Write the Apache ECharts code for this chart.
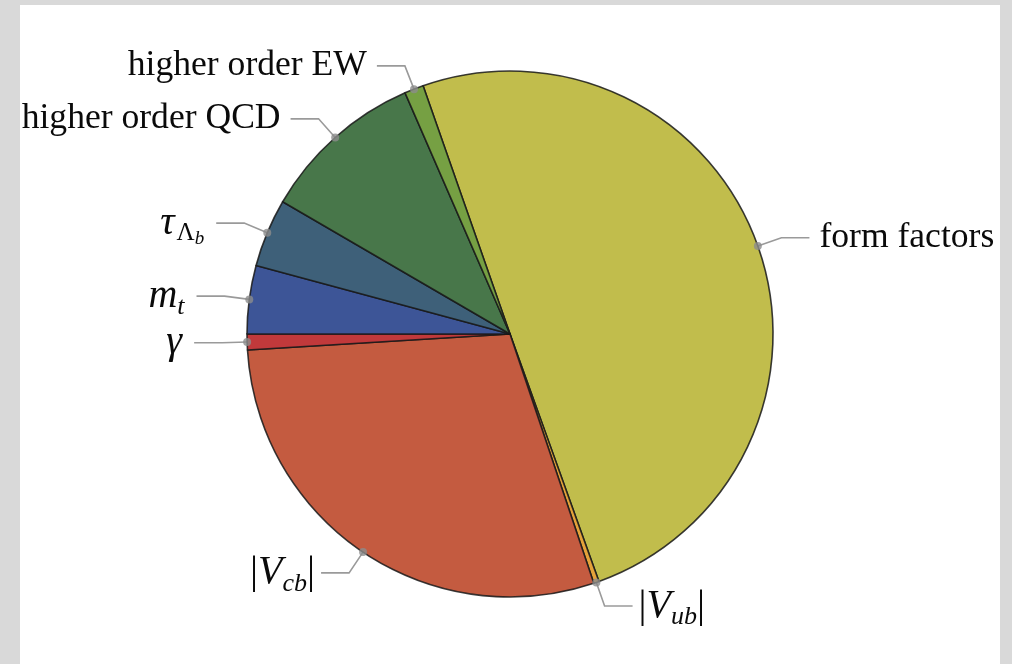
<!DOCTYPE html>
<html>
<head>
<meta charset="utf-8">
<script src="https://cdn.jsdelivr.net/npm/echarts@6/dist/echarts.min.js"></script>
<style>
  html, body { margin: 0; padding: 0; width: 1012px; height: 664px; background: #d9d9d9; overflow: hidden; }
  #chart { position: absolute; left: 20px; top: 5px; width: 980px; height: 659px; background: #ffffff; }
</style>
</head>
<body>
<div id="chart"></div>
<script>
// Error budget contributions (share of total, %), listed clockwise from the top
const keys    = ['ff', 'vub', 'vcb', 'gamma', 'mt', 'tau', 'qcd', 'ew'];
const values  = [49.86, 0.33, 29.19, 0.97, 4.19, 4.19, 10.08, 1.17];
const labels  = [
  '{t|form factors}',
  '{u||}{i|V}{s|ub}{u||}',
  '{u||}{i|V}{s|cb}{u||}',
  '{i|γ}',
  '{i|m}{s|t}',
  '{i|τ}{su|Λ}{ss|b}',
  '{t|higher order QCD}',
  '{t|higher order EW}'
];
// gap between the end of each callout line and its label
const labelGaps = [10, 6, 6, 12, 12, 12, 10, 10];
const colors  = ['#c1bd4c', '#e4a23a', '#c45b40', '#c1393b', '#3d5597', '#3e6079', '#48774a', '#76a043'];

const START_ANGLE = 109.3;
const CENTER = [490, 329];
const RADIUS = 263;
const SERIF = '"Liberation Serif", "DejaVu Serif", serif';
const INK = '#0a0a0a';

const total = values.reduce((a, b) => a + b, 0);
// mid-angle of each slice, in data units, for the callout dots
const mids = [];
let acc = 0;
values.forEach(v => { mids.push(acc + v / 2); acc += v; });

const chart = echarts.init(document.getElementById('chart'), null, { renderer: 'canvas' });

chart.setOption({
  animation: false,
  polar: { center: CENTER, radius: RADIUS },
  angleAxis: {
    type: 'value', min: 0, max: total, startAngle: START_ANGLE, clockwise: true,
    show: false, axisLine: { show: false }, splitLine: { show: false }
  },
  radiusAxis: { type: 'value', min: 0, max: 1, show: false, splitLine: { show: false } },
  series: [
    {
      type: 'pie',
      center: CENTER,
      radius: RADIUS,
      startAngle: START_ANGLE,
      clockwise: true,
      avoidLabelOverlap: false,
      z: 2,
      itemStyle: { borderColor: 'rgba(25,25,25,0.85)', borderWidth: 1.6 },
      emphasis: { disabled: true },
      label: {
        show: true,
        position: 'outside',
        distanceToLabelLine: 10,
        color: INK,
        rich: {
          t:  { fontFamily: SERIF, fontSize: 35.6, lineHeight: 40, color: INK },
          u:  { fontFamily: SERIF, fontSize: 40, lineHeight: 44, color: INK },
          i:  { fontFamily: SERIF, fontSize: 40, lineHeight: 44, fontStyle: 'italic', color: INK },
          s:  { fontFamily: SERIF, fontSize: 26, lineHeight: 26, fontStyle: 'italic', color: INK, padding: [22, 0, 0, 0] },
          su: { fontFamily: SERIF, fontSize: 25, lineHeight: 25, color: INK, padding: [20, 0, 0, 2] },
          ss: { fontFamily: SERIF, fontSize: 19, lineHeight: 19, fontStyle: 'italic', color: INK, padding: [32, 0, 0, 0] }
        }
      },
      labelLine: {
        show: true,
        length: 25,
        length2: 28,
        smooth: false,
        lineStyle: { color: '#9a9a9a', width: 1.6 }
      },
      data: keys.map((k, i) => ({
        name: k,
        value: values[i],
        itemStyle: { color: colors[i] },
        label: { formatter: labels[i], distanceToLabelLine: labelGaps[i] }
      }))
    },
    {
      type: 'scatter',
      coordinateSystem: 'polar',
      z: 5,
      symbol: 'circle',
      symbolSize: 8,
      itemStyle: { color: '#8c8c8c' },
      emphasis: { disabled: true },
      data: mids.map(m => [1, m])
    }
  ]
});
</script>
</body>
</html>
